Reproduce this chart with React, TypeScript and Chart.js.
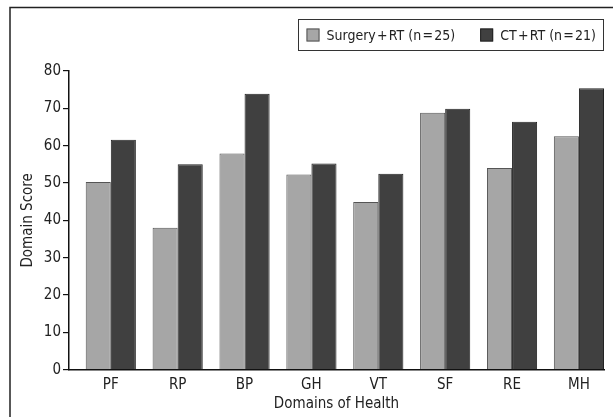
import React, { useEffect, useRef } from "react";
import { Chart, registerables } from "chart.js";

Chart.register(...registerables);

const categories = ["PF", "RP", "BP", "GH", "VT", "SF", "RE", "MH"];
const surgeryRT = [50.3, 38.0, 57.9, 52.3, 44.9, 68.8, 54.0, 62.5];
const ctRT = [61.6, 55.0, 73.9, 55.2, 52.5, 69.9, 66.4, 75.4];
const seriesNames = ["Surgery\u200A+\u200ART (n\u200A=\u200A25)", "CT\u200A+\u200ART (n\u200A=\u200A21)"];
const yTicks = [0, 10, 20, 30, 40, 50, 60, 70, 80];

const FONT = "'Liberation Sans Narrow', 'DejaVu Sans Condensed', 'Roboto Condensed', sans-serif";
const LIGHT = "#a6a6a6";
const DARK = "#404040";

const framePlugin = {
  id: "frame",
  beforeDraw(chart: any) {
    const ctx = chart.ctx;
    ctx.save();
    ctx.fillStyle = "#fff";
    ctx.fillRect(0, 0, chart.width, chart.height);
    ctx.strokeStyle = "#222";
    ctx.lineWidth = 1.5;
    ctx.strokeRect(10, 7.5, chart.width + 20, chart.height + 20);
    ctx.restore();
  },
};

const boxedLegendPlugin = {
  id: "boxedLegend",
  afterDraw(chart: any) {
    const ctx = chart.ctx;
    const ds = chart.data.datasets;
    ctx.save();
    ctx.font = `14px ${FONT}`;
    const pad = 8;
    const sq = 13;
    const gapText = 7;
    const gapItem = 25;
    const widths = ds.map((d: any) => ctx.measureText(d.label).width);
    let total = pad * 2;
    widths.forEach((w: number, i: number) => {
      total += sq + gapText + w + (i < widths.length - 1 ? gapItem : 0);
    });
    const right = Math.round(chart.chartArea.right) - 0.5;
    const left = Math.round(right - total) + 0.5;
    const top = 19.5;
    const h = 31;
    ctx.fillStyle = "#fff";
    ctx.fillRect(left, top, right - left, h);
    ctx.strokeStyle = "#333";
    ctx.lineWidth = 1;
    ctx.strokeRect(left, top, right - left, h);
    let x = left + pad;
    const cy = top + h / 2;
    ds.forEach((d: any, i: number) => {
      ctx.fillStyle = d.backgroundColor;
      ctx.fillRect(x, cy - sq / 2, sq, sq);
      ctx.strokeStyle = d.borderColor;
      ctx.strokeRect(x + 0.5, cy - sq / 2 + 0.5, sq - 1, sq - 1);
      x += sq + gapText;
      ctx.fillStyle = "#222";
      ctx.textBaseline = "middle";
      ctx.textAlign = "left";
      ctx.fillText(d.label, x, cy + 1);
      x += widths[i] + gapItem;
    });
    ctx.restore();
  },
};

export default function App() {
  const ref = useRef<HTMLCanvasElement>(null);
  useEffect(() => {
    if (!ref.current) return;
    const chart = new Chart(ref.current, {
      type: "bar",
      data: {
        datasets: [
          {
            label: seriesNames[0],
            data: surgeryRT.map((v, i) => ({ x: i, y: v })),
            backgroundColor: LIGHT,
            borderColor: "#555",
            borderWidth: 1,
            categoryPercentage: 0.75,
            barPercentage: 1,
          },
          {
            label: seriesNames[1],
            data: ctRT.map((v, i) => ({ x: i, y: v })),
            backgroundColor: DARK,
            borderColor: "#222",
            borderWidth: 1,
            categoryPercentage: 0.75,
            barPercentage: 1,
          },
        ],
      },
      options: {
        animation: false,
        responsive: false,
        devicePixelRatio: 1,
        layout: { padding: { left: 15, right: 9, top: 71, bottom: 0 } },
        plugins: { legend: { display: false }, tooltip: { enabled: false } },
        scales: {
          x: {
            type: "linear",
            offset: false,
            min: -0.625,
            max: categories.length - 0.625,
            afterBuildTicks: (s: any) => {
              s.ticks = categories.map((_, i) => ({ value: i }));
            },
            grid: { display: false, drawTicks: false, offset: false },
            border: { display: true, color: "#111", width: 1.5 },
            ticks: {
              autoSkip: false,
              maxRotation: 0,
              padding: 6,
              color: "#222",
              font: { family: FONT, size: 15 },
              callback: (v: any) => categories[Math.round(v)] ?? "",
            },
            title: {
              display: true,
              text: "Domains of Health",
              color: "#222",
              font: { family: FONT, size: 15 },
              padding: { top: 0, bottom: 4 },
            },
            afterFit: (s: any) => {
              s.height = 47.3;
            },
          },
          y: {
            min: 0,
            max: 80,
            afterBuildTicks: (s: any) => {
              s.ticks = yTicks.map((v) => ({ value: v }));
            },
            grid: { drawOnChartArea: false, drawTicks: true, tickLength: 6, color: "#111", lineWidth: 1.2 },
            border: { display: true, color: "#111", width: 1.5 },
            ticks: {
              padding: 2,
              color: "#222",
              font: { family: FONT, size: 15 },
            },
            title: {
              display: true,
              text: "Domain Score",
              color: "#222",
              font: { family: FONT, size: 15 },
              padding: { top: 4, bottom: 4 },
            },
            afterFit: (s: any) => {
              s.width = 54;
            },
          },
        },
      },
      plugins: [framePlugin, boxedLegendPlugin],
    } as any);
    return () => chart.destroy();
  }, []);
  return (
    <div style={{ position: "absolute", left: 0, top: 0, width: 613, height: 417 }}>
      <canvas ref={ref} width={613} height={417} style={{ display: "block", width: 613, height: 417 }} />
    </div>
  );
}
